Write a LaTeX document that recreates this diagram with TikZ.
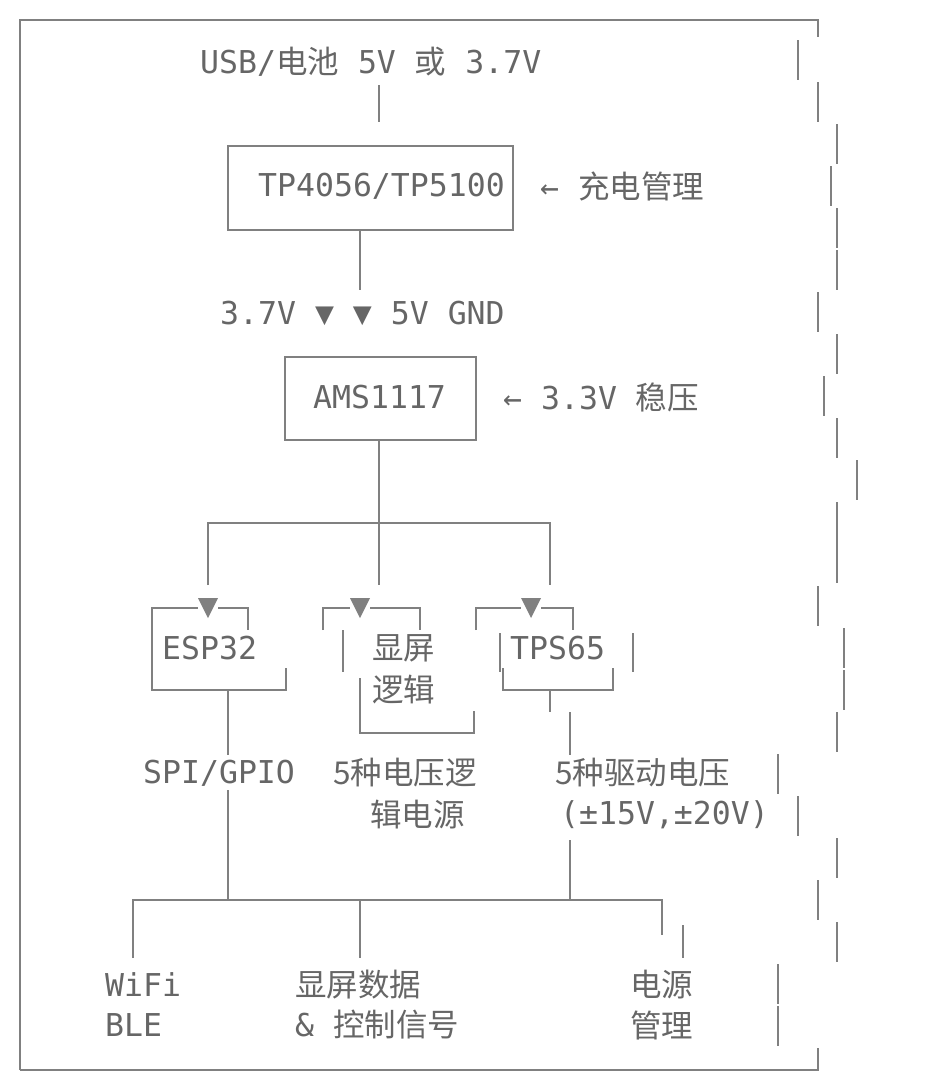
\documentclass[tikz,border=0pt]{standalone}
\usepackage{fontspec}
\setmainfont{DejaVu Sans Mono}
\newfontfamily\cjk{Noto Sans CJK SC}
\definecolor{txt}{HTML}{666666}
\definecolor{ln}{HTML}{808080}
\begin{document}
\begin{tikzpicture}[x=1pt,y=-1pt,
  lbl/.style={anchor=west,inner sep=0pt,text=txt,font=\fontsize{31.5}{38}\selectfont},
  wire/.style={draw=ln,line width=2.2pt}]
\useasboundingbox (0,0) rectangle (926,1090);
% outer frame
\draw[wire] (20,1070) -- (20,20) -- (818,20) -- (818,37);
\draw[wire] (20,1070) -- (818,1070) -- (818,1048);
\foreach \x/\a/\b in {798/40/80,818/82/122,837/124/164,831/166/206,837/208/248,837/250/290,818/292/332,837/334/374,824/376/416,837/418/458,857/460/500,837/502/583,818/586/626,844/628/668,844/670/710,837/712/752,778/754/794,798/796/836,837/838/878,818/880/920,837/922/962,778/964/1004,778/1006/1046}
  \draw[wire] (\x,\a) -- (\x,\b);
% top
\node[lbl] (src) at (200,62) {USB/{\cjk 电池} 5V {\cjk 或} 3.7V};
\draw[wire] (379,85) -- (379,122);
\draw[wire] (228,146) rectangle (513,230);
\node[lbl] (tp) at (258,186) {TP4056/TP5100};
\node[lbl] (tpn) at (540,186) {← {\cjk 充电管理}};
\draw[wire] (360,230) -- (360,290);
\node[lbl] (rails) at (220,313) {3.7V ▼ ▼ 5V GND};
\draw[wire] (285,357) rectangle (476,440);
\node[lbl] (ams) at (313,397) {AMS1117};
\node[lbl] (amsn) at (503,397) {← 3.3V {\cjk 稳压}};
\draw[wire] (379,440) -- (379,585);
\draw[wire] (208,585) -- (208,523) -- (550,523) -- (550,585);
% arrows
\foreach \x in {208,360,531}
  \fill[ln] (\x-10,598) -- (\x+10,598) -- (\x,618) -- cycle;
% ESP32 box
\draw[wire] (152,630) -- (152,608) -- (198,608) (218,608) -- (248,608) -- (248,630);
\draw[wire] (152,630) -- (152,690) -- (286,690) -- (286,668);
\node[lbl] (esp) at (162,648) {ESP32};
% display logic box
\draw[wire] (323,630) -- (323,608) -- (350,608) (370,608) -- (420,608) -- (420,630);
\draw[wire] (343,630) -- (343,672);
\node[lbl] (dl1) at (372,648) {\cjk 显屏};
\node[lbl] (dl2) at (372,690) {\cjk 逻辑};
\draw[wire] (360,678) -- (360,733) -- (474,733) -- (474,711);
% TPS65 box
\draw[wire] (476,630) -- (476,608) -- (521,608) (541,608) -- (573,608) -- (573,630);
\draw[wire] (500,633) -- (500,672) (633,633) -- (633,672);
\node[lbl] (tps) at (510,648) {TPS65};
\draw[wire] (503,668) -- (503,690) -- (613,690) -- (613,668);
% outputs
\draw[wire] (228,690) -- (228,755) (228,790) -- (228,900);
\node[lbl] (spi) at (143,773) {SPI/GPIO};
\node[lbl] (v1) at (333,773) {{\cjk 5种电压逻}};
\node[lbl] (v2) at (370,815) {\cjk 辑电源};
\draw[wire] (550,690) -- (550,712) (570,712) -- (570,755) (570,840) -- (570,900);
\node[lbl] (d1) at (555,773) {{\cjk 5种驱动电压}};
\node[lbl] (d2) at (560,815) {(±15V,±20V)};
% bottom bus
\draw[wire] (133,958) -- (133,900) -- (662,900) -- (662,935);
\draw[wire] (360,900) -- (360,958) (683,925) -- (683,958);
\node[lbl] (w1) at (105,985) {WiFi};
\node[lbl] (w2) at (105,1025) {BLE};
\node[lbl] (s1) at (295,985) {\cjk 显屏数据};
\node[lbl] (s2) at (295,1025) {\& {\cjk 控制信号}};
\node[lbl] (p1) at (630,985) {\cjk 电源};
\node[lbl] (p2) at (630,1025) {\cjk 管理};
\end{tikzpicture}
\end{document}
